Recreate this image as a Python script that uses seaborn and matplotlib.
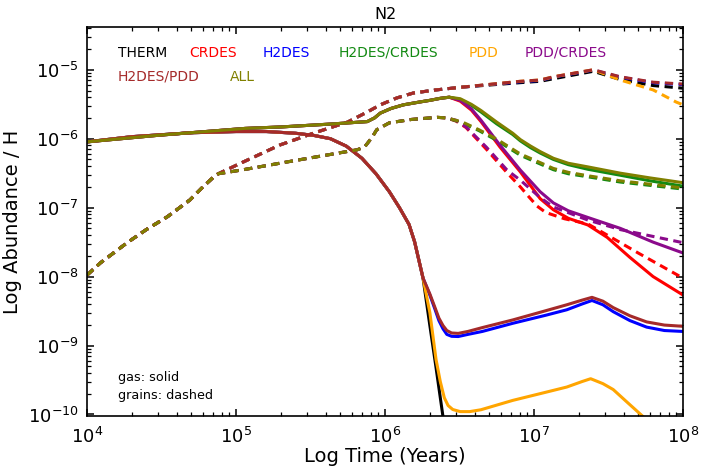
import numpy as np
import pandas as pd
import matplotlib
matplotlib.use("Agg")
import matplotlib.pyplot as plt
import seaborn as sns
from matplotlib.ticker import LogLocator, NullFormatter, FixedLocator, LogFormatterSciNotation

# ---------------- data ----------------
# gas phase, models without CR desorption: shared early part
t_gasA_early = [1.0e4, 2.0e4, 5.0e4, 1.0e5, 1.6e5, 2.5e5, 3.3e5, 4.3e5, 5.5e5, 7.0e5, 8.7e5, 1.07e6, 1.25e6, 1.45e6, 1.58e6, 1.8e6]
x_gasA_early = [9.0e-7, 1.07e-6, 1.22e-6, 1.27e-6, 1.27e-6, 1.2e-6, 1.12e-6, 1.0e-6, 7.8e-7, 5.2e-7, 3.1e-7, 1.7e-7, 1.0e-7, 5.7e-8, 3.2e-8, 9.5e-9]

t_therm_gas_late = [2.0e6, 2.2e6, 2.45e6, 2.7e6]
x_therm_gas_late = [1.95e-9, 4.8e-10, 9.3e-11, 1.0e-11]

t_h2despdd_gas_late = [2.0e6, 2.16e6, 2.3e6, 2.45e6, 2.6e6, 2.8e6, 3.1e6, 3.6e6, 4.5e6, 7.2e6, 1.2e7, 1.66e7, 2.1e7, 2.45e7, 2.9e7, 3.4e7, 4.4e7, 5.7e7, 7.5e7, 1.0e8]
x_h2despdd_gas_late = [5.6e-9, 3.6e-9, 2.5e-9, 1.95e-9, 1.65e-9, 1.52e-9, 1.5e-9, 1.6e-9, 1.82e-9, 2.35e-9, 3.2e-9, 3.9e-9, 4.55e-9, 5.0e-9, 4.4e-9, 3.55e-9, 2.7e-9, 2.2e-9, 1.98e-9, 1.9e-9]

t_h2des_gas_late = [2.0e6, 2.16e6, 2.3e6, 2.45e6, 2.6e6, 2.8e6, 3.1e6, 3.6e6, 4.5e6, 7.2e6, 1.2e7, 1.66e7, 2.1e7, 2.45e7, 2.9e7, 3.4e7, 4.4e7, 5.7e7, 7.5e7, 1.0e8]
x_h2des_gas_late = [5.4e-9, 3.4e-9, 2.3e-9, 1.75e-9, 1.45e-9, 1.36e-9, 1.35e-9, 1.45e-9, 1.6e-9, 2.1e-9, 2.75e-9, 3.3e-9, 4.0e-9, 4.5e-9, 3.9e-9, 3.1e-9, 2.3e-9, 1.85e-9, 1.65e-9, 1.6e-9]

t_pdd_gas_late = [2.0e6, 2.2e6, 2.35e6, 2.5e6, 2.65e6, 2.85e6, 3.2e6, 3.7e6, 4.4e6, 7.2e6, 1.2e7, 1.66e7, 2.1e7, 2.4e7, 2.9e7, 3.4e7, 4.3e7, 5.4e7, 1.0e8]
x_pdd_gas_late = [3.0e-9, 6.3e-10, 3.0e-10, 1.75e-10, 1.35e-10, 1.18e-10, 1.1e-10, 1.1e-10, 1.17e-10, 1.6e-10, 2.1e-10, 2.5e-10, 3.0e-10, 3.3e-10, 2.8e-10, 2.3e-10, 1.45e-10, 9.3e-11, 2.5e-11]

# gas phase, models with CR desorption: shared early part
t_gasB_early = [1.0e4, 3.0e4, 1.15e5, 2.0e5, 4.3e5, 7.6e5, 8.5e5, 9.3e5, 1.1e6, 1.33e6, 1.7e6, 2.0e6, 2.35e6, 2.7e6]
x_gasB_early = [9.0e-7, 1.12e-6, 1.41e-6, 1.48e-6, 1.63e-6, 1.77e-6, 2.0e-6, 2.35e-6, 2.75e-6, 3.1e-6, 3.4e-6, 3.6e-6, 3.85e-6, 4.0e-6]

t_all_gas_late = [3.2e6, 3.8e6, 4.4e6, 5.6e6, 7.2e6, 8.1e6, 9.5e6, 1.1e7, 1.35e7, 1.7e7, 2.3e7, 3.8e7, 6.0e7, 1.0e8]
x_all_gas_late = [3.8e-6, 3.15e-6, 2.57e-6, 1.75e-6, 1.2e-6, 9.7e-7, 7.8e-7, 6.5e-7, 5.2e-7, 4.4e-7, 3.9e-7, 3.16e-7, 2.7e-7, 2.3e-7]

t_h2descr_gas_late = [3.2e6, 3.8e6, 4.4e6, 5.6e6, 7.2e6, 8.1e6, 9.5e6, 1.1e7, 1.35e7, 1.7e7, 2.3e7, 3.8e7, 6.0e7, 1.0e8]
x_h2descr_gas_late = [3.7e-6, 3.05e-6, 2.45e-6, 1.65e-6, 1.15e-6, 9.3e-7, 7.4e-7, 6.2e-7, 5.0e-7, 4.2e-7, 3.6e-7, 2.95e-7, 2.45e-7, 2.05e-7]

t_pddcr_gas_late = [3.2e6, 3.8e6, 4.4e6, 5.9e6, 8.1e6, 1.1e7, 1.35e7, 1.7e7, 2.3e7, 3.8e7, 6.3e7, 1.0e8]
x_pddcr_gas_late = [3.6e-6, 2.7e-6, 1.86e-6, 8.1e-7, 3.5e-7, 1.7e-7, 1.17e-7, 9.0e-8, 7.2e-8, 5.0e-8, 3.16e-8, 2.2e-8]

t_crdes_gas_late = [3.2e6, 3.8e6, 4.4e6, 5.9e6, 8.1e6, 1.1e7, 1.35e7, 1.7e7, 2.3e7, 3.1e7, 4.4e7, 6.3e7, 1.0e8]
x_crdes_gas_late = [3.5e-6, 2.6e-6, 1.78e-6, 7.6e-7, 3.3e-7, 1.35e-7, 9.3e-8, 7.0e-8, 5.6e-8, 3.7e-8, 1.9e-8, 1.0e-8, 5.4e-9]

# grains: shared early part
t_gr_early = [1.0e4, 1.23e4, 1.86e4, 2.5e4, 3.47e4, 4.9e4, 6.0e4, 7.1e4, 7.6e4]
x_gr_early = [1.05e-8, 1.58e-8, 3.1e-8, 4.8e-8, 7.4e-8, 1.29e-7, 2.0e-7, 2.8e-7, 3.1e-7]

# grains, models without CR desorption
t_grA_mid = [1.12e5, 1.97e5, 3.3e5, 5.6e5, 7.5e5, 9.3e5, 1.2e6, 1.55e6, 2.2e6, 3.3e6]
x_grA_mid = [4.6e-7, 8.1e-7, 1.2e-6, 1.74e-6, 2.4e-6, 3.1e-6, 3.9e-6, 4.6e-6, 5.1e-6, 5.6e-6]

t_h2despdd_gr_late = [8.1e6, 1.1e7, 1.35e7, 2.5e7, 3.8e7, 6.3e7, 1.0e8]
x_h2despdd_gr_late = [6.8e-6, 7.1e-6, 7.9e-6, 1.0e-5, 7.9e-6, 6.6e-6, 6.2e-6]
x_h2des_gr_late = [6.7e-6, 7.0e-6, 7.8e-6, 9.9e-6, 7.8e-6, 6.5e-6, 6.1e-6]
x_therm_gr_late = [6.5e-6, 6.8e-6, 7.4e-6, 9.5e-6, 7.2e-6, 5.9e-6, 5.4e-6]

t_pdd_gr_late = [8.1e6, 1.1e7, 1.35e7, 2.5e7, 3.8e7, 6.3e7, 9.0e7, 1.0e8]
x_pdd_gr_late = [6.8e-6, 7.1e-6, 7.9e-6, 1.0e-5, 7.1e-6, 5.1e-6, 3.4e-6, 3.1e-6]

# grains, models with CR desorption
t_grB_mid = [1.12e5, 2.2e5, 6.5e5, 7.3e5, 8.2e5, 8.8e5, 1.07e6, 1.5e6, 2.24e6, 2.6e6]
x_grB_mid = [3.55e-7, 4.6e-7, 6.9e-7, 7.6e-7, 1.05e-6, 1.35e-6, 1.7e-6, 1.9e-6, 2.04e-6, 2.0e-6]

t_h2descr_gr_late = [3.3e6, 4.3e6, 5.6e6, 8.1e6, 1.1e7, 1.35e7, 1.7e7, 2.3e7, 3.8e7, 1.0e8]
x_h2descr_gr_late = [1.7e-6, 1.3e-6, 9.5e-7, 5.75e-7, 4.3e-7, 3.55e-7, 3.1e-7, 2.8e-7, 2.35e-7, 1.86e-7]
x_all_gr_late = [1.75e-6, 1.34e-6, 9.9e-7, 6.0e-7, 4.5e-7, 3.7e-7, 3.25e-7, 2.9e-7, 2.45e-7, 1.93e-7]

t_pddcr_gr_late = [3.0e6, 3.5e6, 4.8e6, 6.6e6, 8.1e6, 1.1e7, 1.35e7, 2.3e7, 3.8e7, 1.0e8]
x_pddcr_gr_late = [1.85e-6, 1.48e-6, 7.5e-7, 3.5e-7, 2.5e-7, 1.4e-7, 1.02e-7, 6.6e-8, 4.8e-8, 3.1e-8]

t_crdes_gr_late = [3.0e6, 3.5e6, 4.8e6, 6.6e6, 8.1e6, 9.2e6, 1.05e7, 1.2e7, 1.6e7, 2.3e7, 3.3e7, 5.0e7, 1.0e8]
x_crdes_gr_late = [1.8e-6, 1.45e-6, 7.0e-7, 3.2e-7, 2.0e-7, 1.45e-7, 1.05e-7, 8.5e-8, 6.9e-8, 5.8e-8, 3.7e-8, 2.2e-8, 9.5e-9]

x_ticks = [1e4, 1e5, 1e6, 1e7, 1e8]
y_ticks = [1e-10, 1e-9, 1e-8, 1e-7, 1e-6, 1e-5]

models = ["THERM", "CRDES", "H2DES", "H2DES/CRDES", "PDD", "PDD/CRDES", "H2DES/PDD", "ALL"]
colors = ["black", "#ff0000", "#0000ff", "#138a13", "#ffa500", "#8b0a8b", "#a52a2a", "#808000"]

gas = {
    "THERM": (t_gasA_early + t_therm_gas_late, x_gasA_early + x_therm_gas_late),
    "CRDES": (t_gasB_early + t_crdes_gas_late, x_gasB_early + x_crdes_gas_late),
    "H2DES": (t_gasA_early + t_h2des_gas_late, x_gasA_early + x_h2des_gas_late),
    "H2DES/CRDES": (t_gasB_early + t_h2descr_gas_late, x_gasB_early + x_h2descr_gas_late),
    "PDD": (t_gasA_early + t_pdd_gas_late, x_gasA_early + x_pdd_gas_late),
    "PDD/CRDES": (t_gasB_early + t_pddcr_gas_late, x_gasB_early + x_pddcr_gas_late),
    "H2DES/PDD": (t_gasA_early + t_h2despdd_gas_late, x_gasA_early + x_h2despdd_gas_late),
    "ALL": (t_gasB_early + t_all_gas_late, x_gasB_early + x_all_gas_late),
}
grain = {
    "THERM": (t_gr_early + t_grA_mid + t_h2despdd_gr_late, x_gr_early + x_grA_mid + x_therm_gr_late),
    "CRDES": (t_gr_early + t_grB_mid + t_crdes_gr_late, x_gr_early + x_grB_mid + x_crdes_gr_late),
    "H2DES": (t_gr_early + t_grA_mid + t_h2despdd_gr_late, x_gr_early + x_grA_mid + x_h2des_gr_late),
    "H2DES/CRDES": (t_gr_early + t_grB_mid + t_h2descr_gr_late, x_gr_early + x_grB_mid + x_h2descr_gr_late),
    "PDD": (t_gr_early + t_grA_mid + t_pdd_gr_late, x_gr_early + x_grA_mid + x_pdd_gr_late),
    "PDD/CRDES": (t_gr_early + t_grB_mid + t_pddcr_gr_late, x_gr_early + x_grB_mid + x_pddcr_gr_late),
    "H2DES/PDD": (t_gr_early + t_grA_mid + t_h2despdd_gr_late, x_gr_early + x_grA_mid + x_h2despdd_gr_late),
    "ALL": (t_gr_early + t_grB_mid + t_h2descr_gr_late, x_gr_early + x_grB_mid + x_all_gr_late),
}

# ---------------- figure ----------------
sns.set_style("ticks")
plt.rcParams["font.family"] = ["DejaVu Sans"]
plt.rcParams["mathtext.fontset"] = "dejavusans"
plt.rcParams["text.color"] = "black"
plt.rcParams["axes.labelcolor"] = "black"
plt.rcParams["xtick.color"] = "black"
plt.rcParams["ytick.color"] = "black"

W, H = 709, 472
fig = plt.figure(figsize=(W / 100, H / 100), dpi=100)
L, R, T, B = 87, 683, 27, 416
ax = fig.add_axes([L / W, 1 - B / H, (R - L) / W, (B - T) / H])

LW = 2.2
for m, c in zip(models, colors):
    tg, xg = gas[m]
    sns.lineplot(x=tg, y=xg, ax=ax, color=c, linewidth=LW, estimator=None, sort=False)
    ax.lines[-1].set_solid_joinstyle("round")
    tr, xr = grain[m]
    sns.lineplot(x=tr, y=xr, ax=ax, color=c, linewidth=LW, estimator=None, sort=False)
    ax.lines[-1].set_dashes([2.7, 1.8])

ax.set_xscale("log")
ax.set_yscale("log")

for sp in ax.spines.values():
    sp.set_visible(True)
    sp.set_linewidth(1.2)
    sp.set_color("black")

ax.xaxis.set_major_locator(FixedLocator(x_ticks))
ax.yaxis.set_major_locator(FixedLocator(y_ticks))
ax.xaxis.set_major_formatter(LogFormatterSciNotation())
ax.yaxis.set_major_formatter(LogFormatterSciNotation())
ax.xaxis.set_minor_locator(LogLocator(base=10, subs=np.arange(2, 10), numticks=100))
ax.yaxis.set_minor_locator(LogLocator(base=10, subs=np.arange(2, 10), numticks=100))
ax.xaxis.set_minor_formatter(NullFormatter())
ax.yaxis.set_minor_formatter(NullFormatter())
ax.set_xlim(1e4, 1e8)
ax.set_ylim(9.5e-11, 4.17e-5)

ax.tick_params(which="both", direction="in", top=True, right=True, color="black", labelcolor="black")
ax.tick_params(which="major", length=5, width=1.1, labelsize=13)
ax.tick_params(axis="x", which="major", pad=8)
ax.tick_params(axis="y", which="major", pad=6)
ax.tick_params(which="minor", length=2.6, width=0.9, labelbottom=False, labelleft=False)

ax.set_xlabel("Log Time (Years)", fontsize=14, labelpad=0, color="black")
ax.set_ylabel("Log Abundance / H", fontsize=14, labelpad=4, color="black")
ax.set_title("N2", fontsize=11.5, pad=6, color="black")

legend_rows = [
    (52.7, [("THERM", 118), ("CRDES", 189), ("H2DES", 263), ("H2DES/CRDES", 339), ("PDD", 469), ("PDD/CRDES", 525)]),
    (76.7, [("H2DES/PDD", 118), ("ALL", 230)]),
]
cmap = dict(zip(models, colors))
for y, items in legend_rows:
    for name, x in items:
        fig.text(x / W, 1 - y / H, name, color=cmap[name], fontsize=10, ha="left", va="center")

fig.text(118 / W, 1 - 377 / H, "gas: solid", fontsize=9.2, ha="left", va="center", color="black")
fig.text(118 / W, 1 - 396 / H, "grains: dashed", fontsize=9.2, ha="left", va="center", color="black")

fig.savefig("out.png", dpi=100)
